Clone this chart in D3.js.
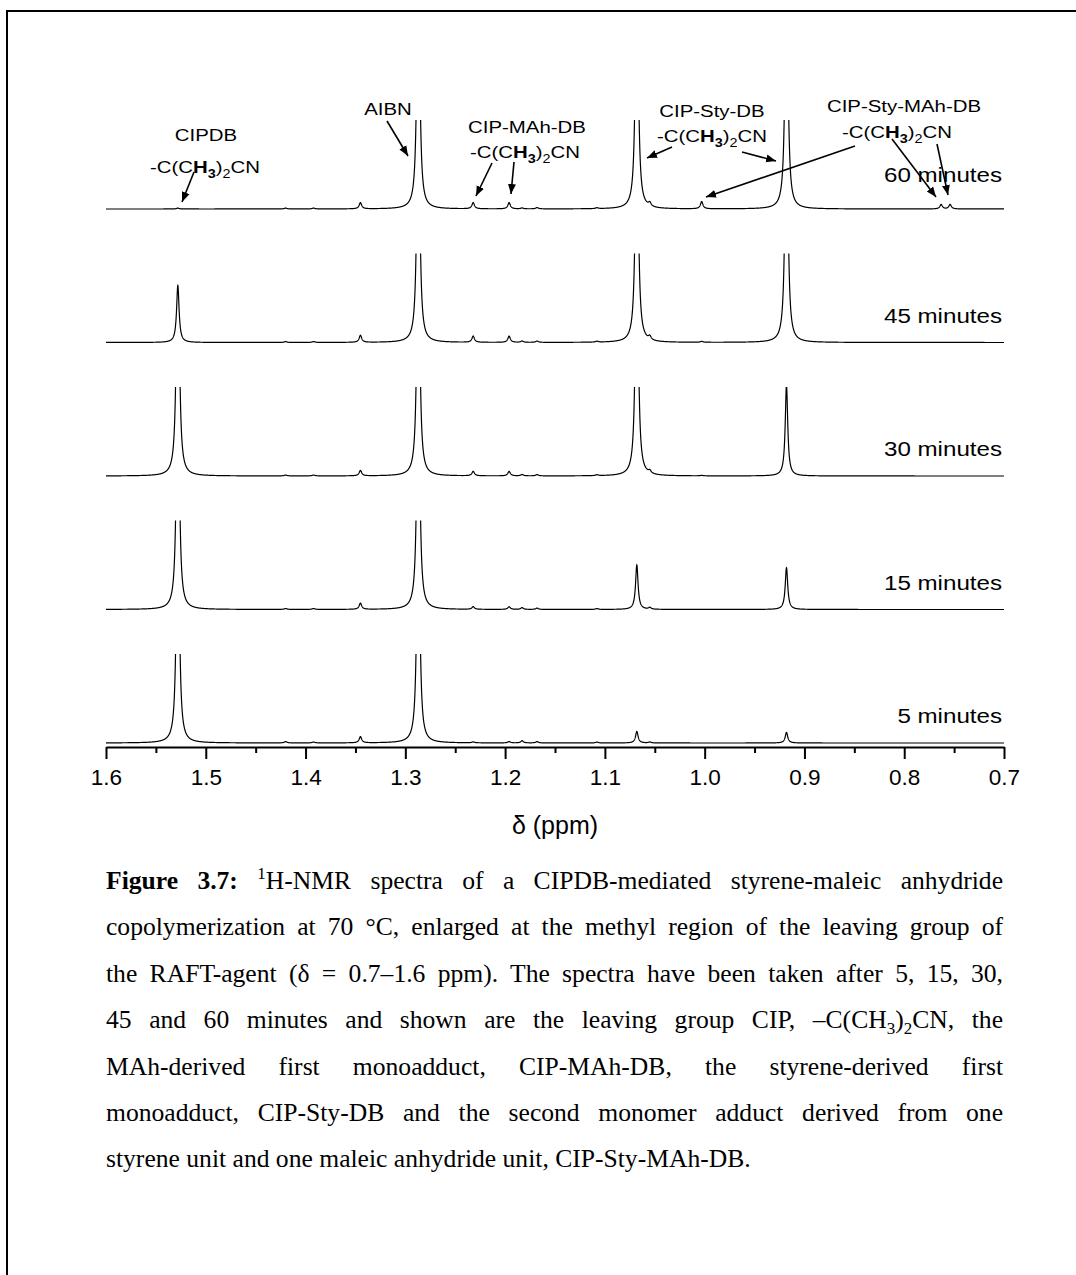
<!DOCTYPE html>
<html>
<head>
<meta charset="utf-8">
<script src="https://cdn.jsdelivr.net/npm/d3@7"></script>
<style>
  body { margin: 0; background: #fff; }
  svg { display: block; }
</style>
</head>
<body>
<svg id="chart" width="1076" height="1275"></svg>
<script>
// chemical shift ticks (ppm)
var majorTicks = [1.6, 1.5, 1.4, 1.3, 1.2, 1.1, 1.0, 0.9, 0.8, 0.7];
var minorTicks = [1.55, 1.45, 1.35, 1.25, 1.15, 1.05, 0.95, 0.85, 0.75];

// spectra, top to bottom
var spectra = ['60 minutes', '45 minutes', '30 minutes', '15 minutes', '5 minutes'];

// peak positions (ppm)
var peakPpm = [1.528, 1.420, 1.392, 1.345, 1.287, 1.232, 1.196, 1.183, 1.168, 1.108, 1.068, 1.055, 1.003, 0.918, 0.763, 0.754];

// peak heights per spectrum (100 = top of the plotting window, larger ones are cut)
var h60 = [1, 1, 1, 7, 340, 7, 7, 1, 1.5, 1, 340, 4, 8, 340, 5, 5];
var h45 = [64, 1, 1, 8, 340, 7, 7, 1.5, 1.5, 1, 340, 4, 1, 340, 0, 0];
var h30 = [340, 1, 1, 6, 340, 5, 5, 1.5, 1.5, 1, 340, 3, 0.5, 102, 0, 0];
var h15 = [340, 1, 1, 7, 340, 3, 3, 2, 1.5, 1, 50, 2, 0, 47, 0, 0];
var h05 = [340, 1.5, 1, 7, 340, 1, 1.5, 2.5, 1.5, 1, 13, 1, 0, 12, 0, 0];
var heights = [h60, h45, h30, h15, h05];

var lineWidthPpm = 0.0015;

var svg = d3.select('#chart');

// frame
svg.append('path')
    .attr('d', 'M7,1275V11H1076')
    .attr('fill', 'none')
    .attr('stroke', '#000')
    .attr('stroke-width', 2);

// scales
var x = d3.scaleLinear().domain([1.6, 0.7]).range([106, 1004]);
var offset = d3.scalePoint().domain(spectra).range([209, 743]);
var y = d3.scaleLinear().domain([0, 100]).range([0, 89]);

// sample each spectrum as a sum of Lorentzian lines
var grid = d3.range(0, 9001).map(function(i) { return 1.6 - i * 0.0001; });

function spectrumPoints(hs) {
    return grid.map(function(p) {
        var v = 0;
        peakPpm.forEach(function(c, k) {
            var d = (p - c) / lineWidthPpm;
            v += hs[k] / (1 + d * d);
        });
        return { ppm: p, v: v };
    });
}

var defs = svg.append('defs');

spectra.forEach(function(name, i) {
    var base = offset(name);
    defs.append('clipPath')
        .attr('id', 'clip' + i)
        .append('rect')
        .attr('x', 100).attr('width', 910)
        .attr('y', base - y(100)).attr('height', y(100) + 4);

    var line = d3.line()
        .x(function(d) { return x(d.ppm); })
        .y(function(d) { return base - y(d.v); });

    svg.append('path')
        .datum(spectrumPoints(heights[i]))
        .attr('clip-path', 'url(#clip' + i + ')')
        .attr('fill', 'none')
        .attr('stroke', '#000')
        .attr('stroke-width', 1.2)
        .attr('d', line);

    // time label
    svg.append('text')
        .attr('transform', 'translate(1002,' + (i === 0 ? 182 : base - 20) + ') scale(1.15,1)')
        .attr('text-anchor', 'end')
        .attr('font-family', 'Liberation Sans, Arial, sans-serif')
        .attr('font-size', 21)
        .text(name);
});

// x axis
var axisY = 747;
var axis = svg.append('g').attr('transform', 'translate(0,' + axisY + ')');
axis.append('g')
    .call(d3.axisBottom(x).tickValues(minorTicks).tickSize(6).tickFormat(''))
    .call(function(g) { g.select('.domain').remove(); });
axis.append('g')
    .call(d3.axisBottom(x).tickValues(majorTicks).tickSize(12).tickSizeOuter(0).tickPadding(10)
        .tickFormat(d3.format('.1f')));
axis.selectAll('line').attr('stroke-width', 2);
axis.selectAll('.domain').attr('stroke-width', 2);
axis.selectAll('text')
    .attr('font-family', 'Liberation Sans, Arial, sans-serif')
    .attr('font-size', 22.5)
    .attr('fill', '#000');

svg.append('text')
    .attr('x', 555).attr('y', 834)
    .attr('text-anchor', 'middle')
    .attr('font-family', 'Liberation Sans, Arial, sans-serif')
    .attr('font-size', 25)
    .text('\u03b4 (ppm)');

// annotations
function label(cx, by, parts) {
    var t = svg.append('text')
        .attr('transform', 'translate(' + cx + ',' + by + ') scale(1.2,1)')
        .attr('text-anchor', 'middle')
        .attr('font-family', 'Liberation Sans, Arial, sans-serif')
        .attr('font-size', 17);
    var shift = 0;
    parts.forEach(function(p) {
        var s = t.append('tspan').text(p.t);
        var want = p.sub ? 5 : 0;
        if (want !== shift) { s.attr('dy', want - shift); shift = want; }
        if (p.sub) s.attr('font-size', 12);
        if (p.b) s.attr('font-weight', 'bold');
    });
}
function methyl(cx, by) {
    label(cx, by, [{ t: '-C(C' }, { t: 'H', b: true }, { t: '3', sub: true, b: true },
        { t: ')' }, { t: '2', sub: true }, { t: 'CN' }]);
}

label(206, 141, [{ t: 'CIPDB' }]);
methyl(205, 173);
label(388, 115, [{ t: 'AIBN' }]);
label(527, 133, [{ t: 'CIP-MAh-DB' }]);
methyl(525, 158);
label(712, 117, [{ t: 'CIP-Sty-DB' }]);
methyl(712, 142);
label(904, 112, [{ t: 'CIP-Sty-MAh-DB' }]);
methyl(897, 138);

// arrows
var arrows = [
    [194, 172, 182, 202],
    [387, 121, 408, 156],
    [492, 163, 476, 196],
    [514, 162, 511, 194],
    [672, 147, 647, 158],
    [742, 152, 776, 161],
    [855, 146, 706, 197],
    [892, 139, 936, 197],
    [937, 144, 948, 195]
];
defs.append('marker')
    .attr('id', 'head')
    .attr('viewBox', '0 0 10 10')
    .attr('refX', 10).attr('refY', 5)
    .attr('markerWidth', 10).attr('markerHeight', 10)
    .attr('markerUnits', 'userSpaceOnUse')
    .attr('orient', 'auto')
    .append('path')
    .attr('d', 'M0,1L10,5L0,9Z')
    .attr('fill', '#000');

svg.selectAll('.arrow')
    .data(arrows)
    .enter().append('line')
    .attr('class', 'arrow')
    .attr('x1', function(d) { return d[0]; })
    .attr('y1', function(d) { return d[1]; })
    .attr('x2', function(d) { return d[2]; })
    .attr('y2', function(d) { return d[3]; })
    .attr('stroke', '#000')
    .attr('stroke-width', 1.6)
    .attr('marker-end', 'url(#head)');

// caption
var captionLines = [
    [{ t: 'Figure 3.7:', b: true }, { t: ' ' }, { t: '1', sup: true }, { t: 'H-NMR spectra of a CIPDB-mediated styrene-maleic anhydride' }],
    [{ t: 'copolymerization at 70 \u00b0C, enlarged at the methyl region of the leaving group of' }],
    [{ t: 'the RAFT-agent (\u03b4 = 0.7\u20131.6 ppm). The spectra have been taken after 5, 15, 30,' }],
    [{ t: '45 and 60 minutes and shown are the leaving group CIP, \u2013C(CH' }, { t: '3', sub: true }, { t: ')' }, { t: '2', sub: true }, { t: 'CN, the' }],
    [{ t: 'MAh-derived first monoadduct, CIP-MAh-DB, the styrene-derived first' }],
    [{ t: 'monoadduct, CIP-Sty-DB and the second monomer adduct derived from one' }],
    [{ t: 'styrene unit and one maleic anhydride unit, CIP-Sty-MAh-DB.' }]
];

captionLines.forEach(function(parts, i) {
    var t = svg.append('text')
        .attr('x', 106)
        .attr('y', 889 + i * 46.4)
        .attr('font-family', 'Liberation Serif, Times New Roman, serif')
        .attr('font-size', 25.6)
        .attr('fill', '#000');
    var shift = 0;
    parts.forEach(function(p) {
        var s = t.append('tspan').text(p.t);
        var want = p.sup ? -10 : (p.sub ? 6 : 0);
        if (want !== shift) { s.attr('dy', want - shift); shift = want; }
        if (p.sup || p.sub) s.attr('font-size', 17);
        if (p.b) s.attr('font-weight', 'bold');
    });
    // justify by widening the word gaps
    if (i < captionLines.length - 1) {
        var full = parts.map(function(p) { return p.t; }).join('');
        var gaps = (full.match(/ /g) || []).length;
        var len = t.node().getComputedTextLength();
        t.attr('word-spacing', (897 - len) / gaps);
    }
});
</script>
</body>
</html>
